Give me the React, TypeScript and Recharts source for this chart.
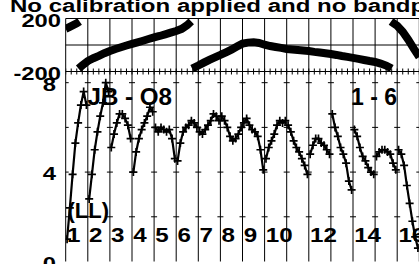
import React from 'react';
import { ComposedChart, Line, Scatter, XAxis, YAxis, ReferenceLine, Customized } from 'recharts';

const FONT = '"Liberation Sans", Arial, Helvetica, sans-serif';
const W = 420;
const H = 264;

const titleText = 'No calibration applied and no bandpass applied';
const baselineText = 'JB - O8';
const stokesText = '(LL)';
const rangeText = '1 - 6';
const ifLabels = ['1', '2', '3', '4', '5', '6', '7', '8', '9', '10', '', '12', '', '14', '', '16'];
const phaseTicks = [-200, 200];
const ampTicks = [0, 4, 8];
const ampMarkLevels = [2, 4, 6, 8];

// phase samples: position (in IF units) and phase (deg)
const phaseX = [0, 0.25, 0.5, 0.63, 0.58, 0.75, 1, 1.25, 1.5, 1.75, 2, 2.25, 2.5, 2.75, 3, 3.25, 3.5, 3.75, 4, 4.25, 4.5, 4.75, 5, 5.25, 5.5, 5.68, 5.72, 6, 6.25, 6.5, 6.75, 7, 7.25, 7.5, 7.75, 8, 8.25, 8.5, 8.75, 9, 9.25, 9.5, 9.75, 10, 10.25, 10.5, 10.75, 11, 11.25, 11.5, 11.75, 12, 12.25, 12.5, 12.75, 13, 13.25, 13.5, 13.75, 14, 14.25, 14.5, 14.75, 14.72, 15, 15.25, 15.5, 15.75, 16];
const phaseDeg = [122, 142, 163, 178, -178, -154, -121, -100, -82, -62, -45, -30, -17, -4, 8, 20, 32, 45, 57, 68, 80, 93, 106, 122, 150, 178, -178, -155, -133, -112, -93, -75, -55, -35, -12, 10, 18, 20, 15, 2, -8, -15, -22, -30, -34, -38, -42, -46, -52, -57, -62, -68, -75, -83, -90, -97, -105, -113, -121, -128, -140, -155, -178, 178, 145, 100, 40, -28, -90];

// amplitude per IF (8 channels each)
const if1 = [1.0, 2.4, 3.9, 5.3, 6.2, 7.0, 7.6, 7.0];
const if2 = [2.8, 3.9, 5.0, 5.8, 6.5, 7.1, 8.0, 7.6];
const if3 = [5.1, 5.7, 6.2, 6.6, 6.6, 6.4, 6.1, 5.5];
const if4 = [4.0, 4.9, 5.5, 5.9, 6.2, 6.5, 6.9, 6.7];
const if5 = [6.0, 5.8, 6.0, 5.9, 5.8, 5.9, 5.5, 4.6];
const if6 = [4.5, 5.3, 5.8, 6.0, 6.1, 6.3, 6.2, 6.0];
const if7 = [5.8, 5.7, 5.9, 6.1, 6.3, 6.6, 6.5, 6.3];
const if8 = [6.5, 6.3, 6.0, 5.6, 5.4, 5.5, 5.7, 6.0];
const if9 = [6.2, 6.4, 6.1, 5.9, 5.8, 5.6, 5.0, 4.1];
const if10 = [4.6, 5.1, 5.4, 5.7, 6.1, 6.3, 6.2, 6.3];
const if11 = [6.1, 5.8, 5.4, 5.1, 4.9, 4.6, 4.3, 3.9];
const if12 = [4.8, 5.2, 5.5, 5.5, 5.3, 5.2, 5.0, 4.8];
const if13 = [6.6, 6.0, 5.6, 5.1, 4.8, 4.4, 3.6, 3.2];
const if14 = [5.9, 5.6, 5.1, 4.7, 4.5, 4.2, 4.0, 3.9];
const if15 = [4.7, 4.9, 5.0, 5.0, 4.9, 4.8, 4.4, 4.1];
const if16 = [5.0, 4.8, 4.3, 3.4, 2.6, 1.8, 1.1, 0.6];
const ampSpectra = [if1, if2, if3, if4, if5, if6, if7, if8, if9, if10, if11, if12, if13, if14, if15, if16];

// panel layout (pixels): phase panel 53 px tall, amplitude panel 190 px tall
const PHASE_PX = 53;
const AMP_PX = 190;
const TOTAL_PX = PHASE_PX + AMP_PX;
const AMP_TOP = 8.5;
const phaseDomain: [number, number] = [200 - (400 * TOTAL_PX) / PHASE_PX, 200];
const ampDomain: [number, number] = [0, (AMP_TOP * TOTAL_PX) / AMP_PX];

const nIF = ampSpectra.length;
const ifBounds = Array.from({ length: nIF + 1 }, (_, i) => i);
const quarterTicks = Array.from({ length: nIF * 4 + 1 }, (_, k) => k / 4);

type Row = { x: number; ph?: number | null; amp?: number | null };
const phaseRows: Row[] = [];
phaseDeg.forEach((v, k) => {
  if (k > 0 && Math.abs(v - phaseDeg[k - 1]) > 180) phaseRows.push({ x: phaseX[k], ph: null });
  phaseRows.push({ x: phaseX[k], ph: v });
});

const ampRows: Row[] = [];
ampSpectra.forEach((vals, i) => {
  vals.forEach((v, k) => ampRows.push({ x: i + (k + 0.5) / vals.length, amp: v }));
  ampRows.push({ x: i + 1, amp: null });
});

const rows: Row[] = [...phaseRows, ...ampRows];

const markRows = ifBounds.flatMap((i) => ampMarkLevels.map((a) => ({ x: i, amp: a })));
const midTickRows = quarterTicks.map((x) => ({ x, ph: -200 }));

function StretchText(props: { x: number; y: number; sx: number; size: number; anchor?: string; children: React.ReactNode }) {
  const { x, y, sx, size, anchor = 'start', children } = props;
  return (
    <text
      transform={`translate(${x},${y}) scale(${sx},1)`}
      x={0}
      y={0}
      fontFamily={FONT}
      fontWeight="bold"
      fontSize={size}
      textAnchor={anchor as any}
      fill="#000"
    >
      {children}
    </text>
  );
}

const ampTick = (props: any) => {
  const { x, y, payload } = props;
  return (
    <StretchText key={`yt${payload.value}`} x={x - 9.7} y={y + 8} sx={1.25} size={19} anchor="end">
      {String(payload.value)}
    </StretchText>
  );
};

const phaseLabel = (text: string) => (p: any) => {
  const vb = p.viewBox || {};
  return (
    <StretchText x={(vb.x ?? 65.7) - 4.7} y={(vb.y ?? 0) + 8} sx={1.25} size={19} anchor="end">
      {text}
    </StretchText>
  );
};

const plusDot = (props: any) => {
  const { cx, cy, index } = props;
  if (cx == null || cy == null || Number.isNaN(cy)) return <g key={`d${index}`} />;
  return (
    <path
      key={`d${index}`}
      d={`M${cx - 4},${cy}H${cx + 4}M${cx},${cy - 4}V${cy + 4}`}
      stroke="#000"
      strokeWidth={1.7}
      fill="none"
    />
  );
};

const hTickShape = (props: any) => {
  const { cx, cy } = props;
  if (cx == null || cy == null) return <g />;
  return <path d={`M${cx - 3},${cy}H${cx + 3}`} stroke="#000" strokeWidth={1} fill="none" />;
};

const vTickShape = (props: any) => {
  const { cx, cy } = props;
  if (cx == null || cy == null) return <g />;
  return <path d={`M${cx},${cy - 3}V${cy + 3}`} stroke="#000" strokeWidth={1} fill="none" />;
};

const TextLayer = () => (
  <g>
    <StretchText x={10} y={12} sx={1.3} size={18.5}>
      {titleText}
    </StretchText>
    <StretchText x={87.5} y={105} sx={1.05} size={23}>
      {baselineText}
    </StretchText>
    <StretchText x={397} y={105} sx={1.0} size={23} anchor="end">
      {rangeText}
    </StretchText>
    <StretchText x={67.5} y={218} sx={1.0} size={22}>
      {stokesText}
    </StretchText>
  </g>
);

const axisCommon = {
  dataKey: 'x',
  type: 'number' as const,
  domain: [0, nIF] as [number, number],
  ticks: quarterTicks,
  allowDataOverflow: true,
  interval: 0 as const,
  height: 0,
  mirror: true,
  tickFormatter: () => '',
  axisLine: { stroke: '#000', strokeWidth: 1 },
  tickLine: { stroke: '#000', strokeWidth: 1 },
};

export default function App() {
  return (
    <div style={{ position: 'absolute', left: 0, top: 0, width: 419, height: 264, overflow: 'hidden', background: '#fff' }}>
      <ComposedChart width={W} height={H} data={rows} margin={{ top: 18.5, right: 0.7, bottom: 2.5, left: 5.7 }}>
        <XAxis xAxisId="t" orientation="top" tickSize={3} {...axisCommon} />
        <XAxis xAxisId="b" orientation="bottom" tickSize={4} {...axisCommon} />
        <YAxis yAxisId="p" type="number" domain={phaseDomain} allowDataOverflow hide ticks={phaseTicks} />
        <YAxis
          yAxisId="a"
          dataKey="amp"
          type="number"
          domain={ampDomain}
          ticks={ampTicks}
          allowDataOverflow
          width={60}
          axisLine={false}
          tickLine={false}
          tickSize={0}
          tickMargin={0}
          interval={0}
          tick={ampTick}
        />
        {ifBounds.map((i) => (
          <ReferenceLine
            key={`v${i}`}
            xAxisId="b"
            yAxisId="a"
            x={i}
            stroke="#000"
            strokeWidth={1}
            label={
              i < ifLabels.length && ifLabels[i]
                ? (p: any) => (
                    <StretchText x={(p.viewBox?.x ?? 0) + 1.2} y={242} sx={1.15} size={21}>
                      {ifLabels[i]}
                    </StretchText>
                  )
                : undefined
            }
          />
        ))}
        <ReferenceLine xAxisId="b" yAxisId="p" y={phaseTicks[1]} stroke="#000" strokeWidth={1} label={phaseLabel(String(phaseTicks[1]))} />
        <ReferenceLine xAxisId="b" yAxisId="p" y={0} stroke="#000" strokeWidth={1} />
        <ReferenceLine xAxisId="b" yAxisId="p" y={phaseTicks[0]} stroke="#000" strokeWidth={1} label={phaseLabel(String(phaseTicks[0]))} />
        <Scatter xAxisId="b" yAxisId="p" data={midTickRows} dataKey="ph" shape={vTickShape} isAnimationActive={false} />
        <Scatter xAxisId="b" yAxisId="a" data={markRows} dataKey="amp" shape={hTickShape} isAnimationActive={false} />
        <Line
          xAxisId="b"
          yAxisId="p"
          dataKey="ph"
          type="linear"
          stroke="#000"
          strokeWidth={8}
          dot={false}
          activeDot={false}
          connectNulls={false}
          isAnimationActive={false}
        />
        <Line
          xAxisId="b"
          yAxisId="a"
          dataKey="amp"
          type="linear"
          stroke="#000"
          strokeWidth={2.2}
          dot={plusDot}
          activeDot={false}
          connectNulls={false}
          isAnimationActive={false}
        />
        <Customized component={TextLayer} />
      </ComposedChart>
    </div>
  );
}
